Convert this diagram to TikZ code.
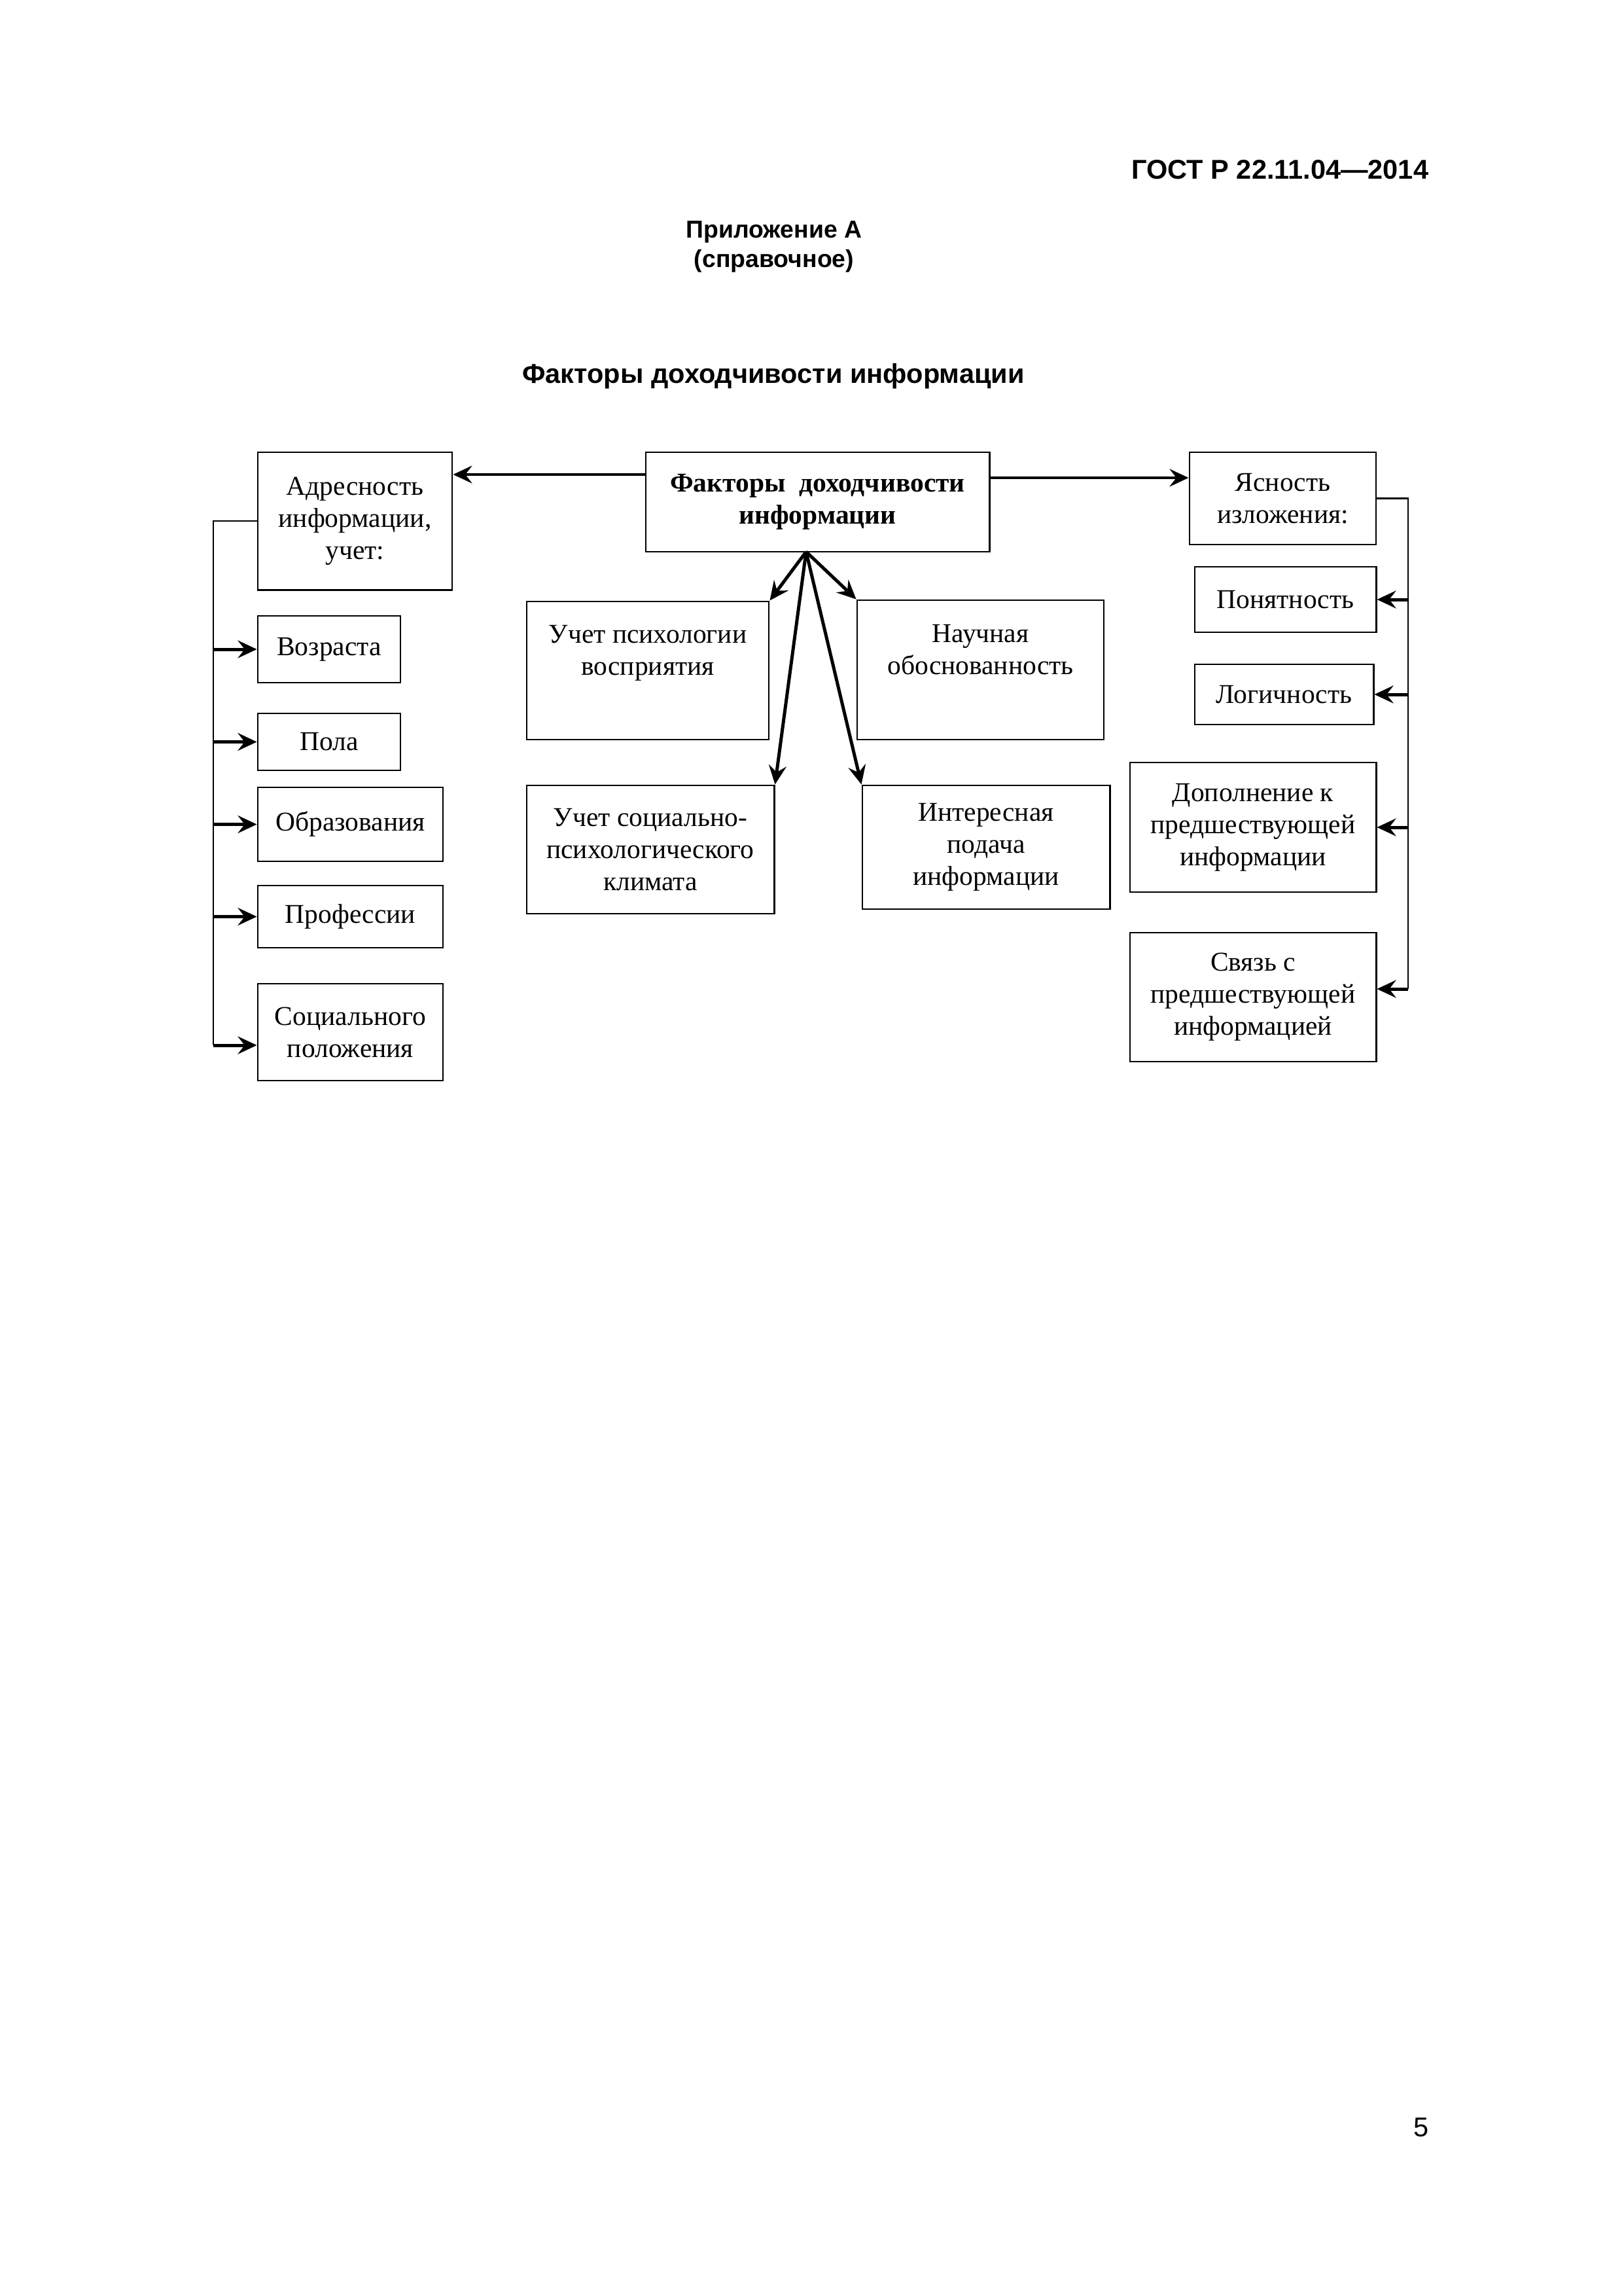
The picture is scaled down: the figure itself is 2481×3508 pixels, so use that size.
\documentclass[tikz,border=0pt]{standalone}
\usepackage{fontspec}
\setmainfont{Liberation Serif}
\newfontfamily\gostfont{Liberation Sans}
\usetikzlibrary{arrows.meta}

\tikzset{
  blok/.style={draw, line width=0.7pt, inner sep=0pt, align=center, font=\fontsize{10}{11.8}\selectfont},
  arr/.style={line width=1.2pt, -{Stealth[length=7pt,width=6.5pt,inset=2.5pt]}},
  farr/.style={arr, line width=1pt},
  bus/.style={line width=0.7pt}
}

\begin{document}
\begin{tikzpicture}[x=0.084643mm,y=-0.084643mm]
\useasboundingbox (0,0) rectangle (2481,3508);

% шапка страницы
\node[anchor=east,inner sep=0pt,font=\gostfont\bfseries\fontsize{10}{12}\selectfont] (gost) at (2184,259) {ГОСТ Р 22.11.04—2014};
\node[align=center,inner sep=0pt,font=\gostfont\bfseries\fontsize{9}{10.8}\selectfont] (pril) at (1183,377) {Приложение А\\(справочное)};
\node[inner sep=0pt,font=\gostfont\bfseries\fontsize{10}{12}\selectfont] (title) at (1182,575) {Факторы доходчивости информации};
\node[inner sep=0pt,font=\gostfont\fontsize{10}{12}\selectfont] (page) at (2172,3250) {5};

% верхний ряд
\node[blok,minimum width=25.14mm,minimum height=17.78mm] (adr) at (542.5,796) {Адресность\\информации,\\учет:};
\node[blok,font=\bfseries\fontsize{10}{11.8}\selectfont,minimum width=44.44mm,minimum height=12.87mm] (fak) at (1249.5,767) {Факторы~~доходчивости\\информации};
\node[blok,minimum width=24.12mm,minimum height=11.93mm] (yas) at (1960.5,761.5) {Ясность\\изложения:};

% левая колонка
\node[blok,minimum width=18.45mm,minimum height=8.63mm] (voz) at (503,992) {Возраста};
\node[blok,minimum width=18.45mm,minimum height=7.36mm] (pol) at (503,1133.5) {Пола};
\node[blok,minimum width=23.95mm,minimum height=9.56mm] (obr) at (535.5,1259.5) {Образования};
\node[blok,minimum width=23.95mm,minimum height=8.04mm] (prof) at (535.5,1400.5) {Профессии};
\node[blok,minimum width=23.95mm,minimum height=12.53mm] (soc) at (535.5,1577) {Социального\\положения};

% середина
\node[blok,minimum width=31.32mm,minimum height=17.86mm] (psy) at (990,1024.5) {Учет психологии\\восприятия\\[3pt]\mbox{}};
\node[blok,minimum width=31.91mm,minimum height=18.03mm] (nauch) at (1498.5,1023.5) {Научная\\обоснованность\\[3pt]\mbox{}};
\node[blok,minimum width=32mm,minimum height=16.59mm] (klim) at (994,1298) {Учет социально-\\психологического\\климата};
\node[blok,minimum width=32mm,minimum height=16mm] (inter) at (1507,1294.5) {Интересная\\подача\\информации};

% правая колонка
\node[blok,minimum width=23.45mm,minimum height=8.46mm] (pon) at (1964.5,916) {Понятность};
\node[blok,minimum width=23.11mm,minimum height=7.79mm] (logi) at (1962.5,1061) {Логичность};
\node[blok,minimum width=31.83mm,minimum height=16.76mm] (dop) at (1915,1264) {Дополнение к\\предшествующей\\информации};
\node[blok,minimum width=31.83mm,minimum height=16.67mm] (svz) at (1915,1523.5) {Связь с\\предшествующей\\информацией};

% стрелки от главного блока
\draw[farr] (fak.west |- 0,725) -- (adr.east |- 0,725);
\draw[farr] (fak.east |- 0,730) -- (yas.west |- 0,730);
\coordinate (fan) at (1232,843);
\foreach \k/\a in {psy/north east,nauch/north west,klim/north east,inter/north west}
  \draw[arr] (fan) -- (\k.\a);

% левая шина
\coordinate (lbus) at (326,1597);
\draw[bus] (adr.west) -| (lbus);
\foreach \k in {voz,pol,obr,prof}
  \draw[arr] (\k.west -| lbus) -- (\k.west);
\draw[arr] (lbus) -- (soc.west |- lbus);

% правая шина
\coordinate (rbus) at (2152,1511);
\draw[bus] (yas.east) -| (rbus);
\foreach \k in {pon,logi,dop}
  \draw[arr] (\k.east -| rbus) -- (\k.east);
\draw[arr] (rbus) -- (svz.east |- rbus);
\end{tikzpicture}
\end{document}
